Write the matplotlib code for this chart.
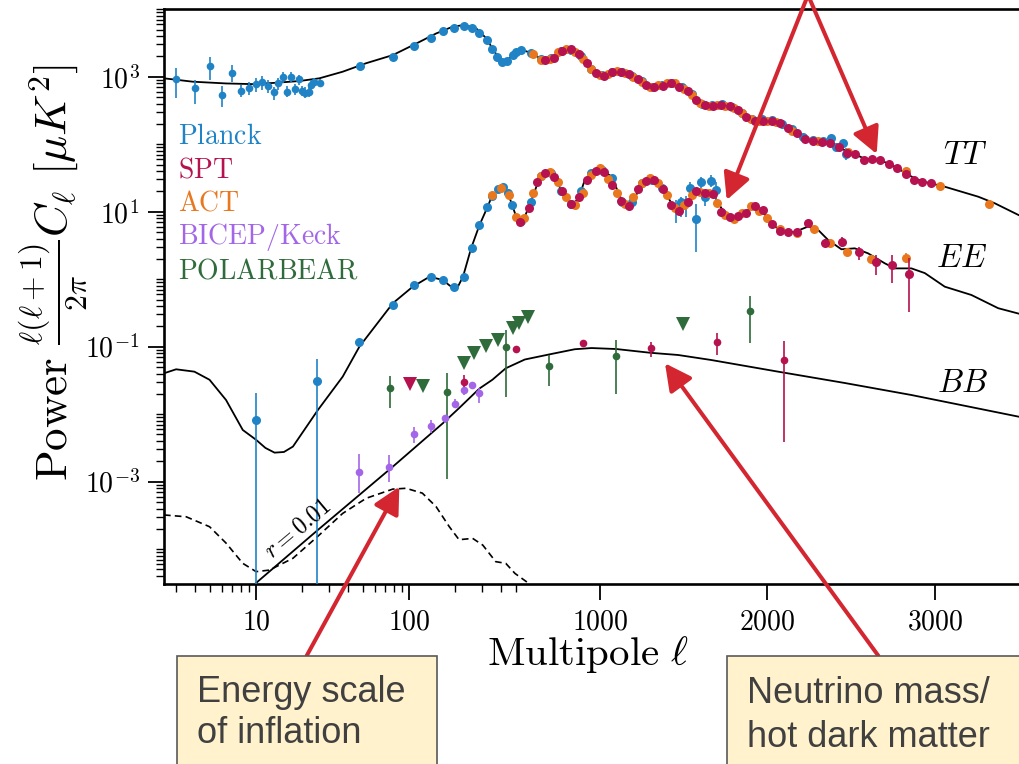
import numpy as np
import matplotlib
matplotlib.use('Agg')
import matplotlib.pyplot as plt
from matplotlib.patches import Rectangle
from matplotlib.ticker import FixedLocator, FixedFormatter, LogLocator, NullFormatter

plt.rcParams['mathtext.fontset'] = 'cm'
plt.rcParams['font.family'] = ['DejaVu Serif']

# ---------------- data (log10 of D_ell in uK^2) ----------------
# theory curves
tt_th_ell = [2.5, 3.85, 6.36, 9.5, 13.5, 19.2, 25.9, 36.8, 52.4, 78.2, 111, 150, 192, 229, 274, 319, 350,
             387, 428, 474, 532, 592, 652, 711, 771, 825, 875, 925, 975, 1025, 1075, 1125, 1175, 1225, 1275,
             1325, 1375, 1425, 1475, 1525, 1575, 1625, 1675, 1725, 1775, 1825, 1875, 1925, 1975, 2025, 2075,
             2125, 2175, 2225, 2275, 2325, 2375, 2425, 2475, 2525, 2575, 2625, 2675, 2725, 2775, 2825, 2875,
             2925, 2975, 3059, 3159, 3259, 3358, 3500]
tt_th_log = [2.976, 2.926, 2.90, 2.89, 2.91, 2.936, 2.976, 3.074, 3.2, 3.32, 3.49, 3.64, 3.74, 3.766, 3.717,
             3.57, 3.42, 3.27, 3.22, 3.32, 3.40, 3.35, 3.26, 3.27, 3.38, 3.41, 3.34, 3.20, 3.05, 3.02, 3.075,
             3.075, 3.04, 2.96, 2.88, 2.855, 2.87, 2.91, 2.855, 2.78, 2.66, 2.58, 2.57, 2.575, 2.565, 2.505,
             2.41, 2.355, 2.35, 2.345, 2.32, 2.24, 2.17, 2.08, 2.05, 2.03, 2.01, 1.965, 1.89, 1.85, 1.79,
             1.775, 1.76, 1.71, 1.65, 1.57, 1.50, 1.45, 1.42, 1.37, 1.296, 1.222, 1.124, 0.95]

ee_th_ell = [2.5, 3.0, 3.95, 4.96, 6.36, 8.18, 10, 11.5, 13.2, 15.2, 17.4, 25.3, 36.8, 47.3, 78.2, 105.6,
             136, 166, 183, 203, 225, 254, 288, 326, 350, 405, 447, 492, 522, 552, 592, 632, 672, 711, 771,
             830, 870, 910, 970, 1010, 1070, 1130, 1170, 1209, 1269, 1319, 1369, 1428, 1467, 1527, 1587,
             1646, 1686, 1726, 1785, 1845, 1904, 1964, 2024, 2083, 2163, 2243, 2303, 2363, 2442, 2522, 2601,
             2701, 2761, 2860, 2940, 3059, 3218, 3378, 3500]
ee_th_log = [-1.394, -1.335, -1.37, -1.49, -1.79, -2.234, -2.38, -2.50, -2.57, -2.56, -2.48, -1.94, -1.444,
             -1.0, -0.357, -0.111, 0.037, -0.012, -0.09, -0.16, 0.037, 0.457, 0.80, 1.074, 1.247, 1.346,
             1.247, 0.976, 0.852, 0.926, 1.173, 1.444, 1.593, 1.568, 1.32, 1.124, 1.173, 1.47, 1.62, 1.62,
             1.52, 1.17, 1.05, 1.22, 1.444, 1.49, 1.37, 1.124, 1.025, 1.173, 1.296, 1.296, 1.222, 1.05,
             0.926, 0.926, 1.074, 1.025, 0.83, 0.70, 0.70, 0.78, 0.73, 0.58, 0.443, 0.457, 0.383, 0.235,
             0.16, 0.16, 0.09, -0.111, -0.234, -0.43, -0.51]

bb_th_ell = [10, 25.3, 78.2, 166, 212, 288, 350, 428, 552, 711, 850, 950, 1099, 1300, 1467, 1664, 2064,
             2462, 2860, 3500]
bb_th_log = [-4.50, -3.716, -2.778, -2.135, -1.91, -1.62, -1.49, -1.32, -1.19, -1.108, -1.038, -1.02,
             -1.035, -1.09, -1.123, -1.197, -1.37, -1.538, -1.716, -2.037]

bbr_ell = [2.5, 3.49, 4.96, 6.36, 8.18, 10, 12.2, 17.4, 25.3, 36.8, 52.4, 78.2, 95.5, 122, 150, 183, 212,
           260, 303, 368, 428, 492, 572, 700]
bbr_log = [-3.493, -3.52, -3.667, -3.91, -4.21, -4.333, -4.31, -4.135, -3.81, -3.47, -3.246, -3.11,
           -3.098, -3.17, -3.37, -3.667, -3.86, -3.84, -3.94, -4.185, -4.21, -4.36, -4.5, -5.0]

# Planck TT
planck_tt_low_ell = [3, 4, 5, 6, 7, 8, 9, 10, 11, 12, 13, 14, 15, 16, 17, 18, 19, 20, 21, 22, 23, 24, 26]
planck_tt_low_log = [2.961, 2.828, 3.163, 2.729, 3.05, 2.788, 2.837, 2.887, 2.926, 2.862, 2.769, 2.902,
                     2.991, 2.778, 3.0, 2.813, 2.961, 2.793, 2.763, 2.773, 2.877, 2.926, 2.911]
planck_tt_low_lo = [2.68, 2.596, 2.951, 2.547, 2.926, 2.704, 2.729, 2.778, 2.803, 2.754, 2.655, 2.803,
                    2.902, 2.695, 2.926, 2.729, 2.877, 2.714, 2.68, 2.695, 2.803, 2.852, 2.843]
planck_tt_low_hi = [3.124, 2.951, 3.296, 2.862, 3.173, 2.877, 2.926, 2.976, 3.01, 2.951, 2.852, 2.976,
                    3.074, 2.862, 3.074, 2.892, 3.025, 2.862, 2.843, 2.843, 2.951, 2.976, 2.961]
planck_tt_ell = [48, 78, 107, 138, 167, 197, 228, 258, 288, 323, 348, 378, 405, 435, 474, 502, 530, 590,
                 650, 710, 770, 830, 890, 950, 1010, 1070, 1130, 1190, 1250, 1310, 1370, 1430, 1490, 1550,
                 1610, 1670, 1730, 1790, 1850, 1910, 1970, 2030, 2090, 2150, 2210, 2270, 2330]
planck_tt_log = [3.154, 3.29, 3.455, 3.569, 3.677, 3.726, 3.751, 3.717, 3.652, 3.544, 3.41, 3.296, 3.222,
                 3.237, 3.32, 3.37, 3.40, 3.35, 3.26, 3.28, 3.385, 3.40, 3.30, 3.11, 3.02, 3.07, 3.075, 3.01,
                 2.93, 2.85, 2.87, 2.91, 2.84, 2.74, 2.60, 2.575, 2.59, 2.55, 2.46, 2.37, 2.37, 2.36, 2.30,
                 2.22, 2.10, 2.06, 2.04]
planck_tt_err_ell = [2382, 2412, 2452, 2472]
planck_tt_err_log = [2.087, 1.963, 2.013, 1.855]
planck_tt_err_lo = [2.037, 1.91, 1.98, 1.766]
planck_tt_err_hi = [2.136, 2.0, 2.05, 1.94]

# SPT TT
spt_tt_ell = [675, 725, 775, 825, 875, 925, 975, 1025, 1075, 1125, 1175, 1225, 1275, 1325, 1375, 1425,
              1475, 1525, 1575, 1625, 1675, 1725, 1775, 1825, 1875, 1925, 1975, 2025, 2075, 2125, 2175,
              2225, 2275, 2325, 2375, 2425, 2475, 2525, 2575, 2625, 2675, 2725, 2775, 2825, 2875, 2925, 2975]
spt_tt_log = [3.25, 3.28, 3.385, 3.405, 3.33, 3.20, 3.05, 3.015, 3.074, 3.074, 3.04, 2.96, 2.877, 2.852,
              2.867, 2.911, 2.852, 2.79, 2.655, 2.576, 2.57, 2.576, 2.566, 2.507, 2.407, 2.35, 2.35, 2.35,
              2.32, 2.235, 2.17, 2.073, 2.047, 2.028, 2.013, 1.963, 1.874, 1.855, 1.766, 1.78, 1.766, 1.707,
              1.652, 1.559, 1.47, 1.444, 1.43]

# ACT TT
act_tt_ell = [600, 650, 700, 750, 800, 850, 900, 950, 1000, 1050, 1100, 1150, 1200, 1250, 1300, 1350,
              1400, 1450, 1500, 1550, 1600, 1650, 1700, 1750, 1800, 1850, 1900, 1950, 2000, 2050, 2150,
              2300, 2480, 2830, 3030, 3325]
act_tt_log = [3.336, 3.247, 3.26, 3.36, 3.406, 3.37, 3.26, 3.114, 3.025, 3.04, 3.084, 3.06, 3.0, 2.926,
              2.852, 2.877, 2.911, 2.90, 2.82, 2.73, 2.61, 2.57, 2.575, 2.57, 2.54, 2.46, 2.375, 2.35, 2.35,
              2.335, 2.20, 2.04, 1.88, 1.61, 1.385, 1.114]

# Planck EE
planck_ee_ell = [47, 78, 107, 138, 167, 197, 228, 258, 288, 323, 350, 380, 410, 440, 470, 530, 590, 650,
                 710, 770, 830, 890, 950, 1010, 1070, 1130, 1190, 1250, 1310, 1370]
planck_ee_log = [-0.926, -0.382, -0.08, 0.037, -0.012, -0.11, 0.037, 0.457, 0.80, 1.074, 1.23, 1.33, 1.36,
                 1.27, 1.10, 0.86, 1.15, 1.53, 1.57, 1.31, 1.12, 1.30, 1.58, 1.62, 1.50, 1.14, 1.14, 1.42,
                 1.47, 1.35]
planck_ee_err_ell = [10, 25, 1453, 1483, 1517, 1537, 1573, 1603, 1630, 1666, 1696]
planck_ee_err_log = [-2.086, -1.508, 1.074, 1.14, 1.124, 1.347, 0.892, 1.436, 1.222, 1.455, 1.32]
planck_ee_err_lo = [-6.0, -6.0, 0.837, 0.926, 0.926, 1.25, 0.407, 1.347, 1.08, 1.37, 1.10]
planck_ee_err_hi = [-1.69, -1.187, 1.173, 1.22, 1.23, 1.44, 1.114, 1.51, 1.32, 1.544, 1.444]

# SPT EE
spt_ee_ell = [525, 575, 625, 675, 725, 775, 825, 875, 925, 975, 1025, 1075, 1125, 1175, 1225, 1275, 1325,
              1375, 1425, 1475, 1525, 1575, 1625, 1675, 1725, 1775, 1825, 1875, 1925, 1975, 2025, 2075,
              2125, 2175]
spt_ee_log = [0.84, 1.05, 1.44, 1.58, 1.52, 1.30, 1.12, 1.22, 1.47, 1.60, 1.59, 1.40, 1.16, 1.08, 1.33,
              1.455, 1.47, 1.336, 1.10, 1.01, 1.14, 1.31, 1.28, 1.258, 1.0, 0.926, 0.936, 0.985, 1.084,
              1.025, 0.82, 0.72, 0.70, 0.70]
spt_ee_hi_ell = [2243, 2343, 2448, 2548, 2648, 2747, 2847]
spt_ee_hi_log = [0.83, 0.53, 0.556, 0.398, 0.25, 0.21, 0.072]
spt_ee_hi_lo = [0.78, 0.47, 0.48, 0.284, 0.06, -0.06, -0.486]
spt_ee_hi_hi = [0.88, 0.59, 0.63, 0.48, 0.36, 0.36, 0.31]

# ACT EE
act_ee_ell = [350, 400, 450, 500, 550, 600, 650, 700, 750, 800, 850, 900, 950, 1000, 1050, 1100, 1150,
              1200, 1250, 1300, 1350, 1400, 1450, 1500, 1550, 1600, 1650, 1700, 1750, 1800, 1850, 1900,
              1950, 2000]
act_ee_log = [1.247, 1.356, 1.247, 0.926, 0.90, 1.27, 1.53, 1.593, 1.444, 1.222, 1.10, 1.28, 1.55, 1.643,
              1.49, 1.28, 1.11, 1.22, 1.42, 1.494, 1.42, 1.247, 1.05, 1.10, 1.247, 1.296, 1.27, 1.124, 0.95,
              0.887, 0.976, 1.084, 1.01, 0.90]
act_ee_hi_ell = [2075, 2175, 2277, 2376, 2476, 2621, 2826]
act_ee_hi_log = [0.75, 0.69, 0.75, 0.53, 0.41, 0.295, 0.32]
act_ee_hi_lo = [0.72, 0.66, 0.71, 0.49, 0.37, 0.25, 0.235]
act_ee_hi_hi = [0.78, 0.72, 0.79, 0.57, 0.45, 0.34, 0.383]

# BB
bicep_bb_ell = [47, 74, 107, 139, 171, 200, 228, 256, 285]
bicep_bb_log = [-2.861, -2.778, -2.293, -2.175, -2.06, -1.85, -1.64, -1.567, -1.69]
bicep_bb_lo = [-3.17, -3.0, -2.42, -2.283, -2.135, -1.913, -1.716, -1.617, -1.83]
bicep_bb_hi = [-2.59, -2.604, -2.185, -2.086, -2.01, -1.78, -1.593, -1.519, -1.617]

pb_bb_ell = [75, 177, 428, 697, 1099, 1899]
pb_bb_log = [-1.607, -1.667, -1.0, -1.286, -1.138, -0.467]
pb_bb_lo = [-1.913, -2.964, -1.75, -1.58, -1.705, -0.95]
pb_bb_hi = [-1.434, -1.385, -0.753, -1.12, -0.9, -0.244]
pb_bb_lim_ell = [124, 227, 267, 316, 379, 474, 518, 572, 1497]
pb_bb_lim_log = [-1.58, -1.237, -1.089, -0.99, -0.9, -0.73, -0.644, -0.565, -0.668]

spt_bb_ell = [228, 498, 900, 1303, 1702, 2102]
spt_bb_log = [-1.527, -1.04, -0.94, -1.024, -0.935, -1.2]
spt_bb_lo = [-1.59, -1.07, -0.97, -1.157, -1.123, -2.407]
spt_bb_hi = [-1.42, -1.01, -0.91, -0.926, -0.80, -0.916]
spt_bb_lim_ell = [102]
spt_bb_lim_log = [-1.557]

experiments = ['Planck', 'SPT', 'ACT', 'BICEP/Keck', 'POLARBEAR']
colors = {'Planck': '#1f83c6', 'SPT': '#b5124f', 'ACT': '#e8771e',
          'BICEP/Keck': '#a366e8', 'POLARBEAR': '#2f6b3b'}

# ---------------- x scale: log below 500, linear above ----------------
ELL_SPLIT = 500.0
K = 0.0010948  # decades per unit ell in the linear part


def fwd(x):
    x = np.asarray(x, dtype=float)
    xs = np.clip(x, 1e-10, None)
    return np.where(x <= ELL_SPLIT, np.log10(xs), np.log10(ELL_SPLIT) + (x - ELL_SPLIT) * K)


def inv(y):
    y = np.asarray(y, dtype=float)
    s = np.log10(ELL_SPLIT)
    return np.where(y <= s, 10 ** np.minimum(y, s), ELL_SPLIT + (y - s) / K)


def p(v):
    return 10 ** np.asarray(v, dtype=float)


def errplot(ax, ell, lg, lo, hi, color, ms=5, z=3):
    v = p(lg)
    ax.errorbar(ell, v, yerr=[v - p(lo), p(hi) - v], fmt='o', color=color, ms=ms, mew=0,
                elinewidth=1.2, capsize=0, zorder=z)


W, H = 1019, 764
fig = plt.figure(figsize=(W / 100, H / 100), dpi=100)
ax_left, ax_bottom, ax_w, ax_h = 164, 584, 938.4, 574.8
ax = fig.add_axes([ax_left / W, (H - ax_bottom) / H, ax_w / W, ax_h / H])
ax.set_xscale('function', functions=(fwd, inv))
ax.set_yscale('log')
ax.set_xlim(2.5, 4000)
ax.set_ylim(10 ** -4.516, 1e4)

# theory curves
ax.plot(tt_th_ell, p(tt_th_log), color='black', lw=1.3, zorder=2)
ax.plot(ee_th_ell, p(ee_th_log), color='black', lw=1.3, zorder=2)
ax.plot(bb_th_ell, p(bb_th_log), color='black', lw=1.3, zorder=2)
ax.plot(bbr_ell, p(bbr_log), color='black', lw=1.2, ls=(0, (4, 2.5)), zorder=2)

# Planck
errplot(ax, planck_tt_low_ell, planck_tt_low_log, planck_tt_low_lo, planck_tt_low_hi, colors['Planck'], ms=5.5)
ax.plot(planck_tt_ell, p(planck_tt_log), 'o', color=colors['Planck'], ms=6.5, mew=0, zorder=3)
errplot(ax, planck_tt_err_ell, planck_tt_err_log, planck_tt_err_lo, planck_tt_err_hi, colors['Planck'], ms=6.5)
ax.plot(planck_ee_ell, p(planck_ee_log), 'o', color=colors['Planck'], ms=6.5, mew=0, zorder=3)
errplot(ax, planck_ee_err_ell, planck_ee_err_log, planck_ee_err_lo, planck_ee_err_hi, colors['Planck'], ms=6.5)

# ACT
ax.plot(act_tt_ell, p(act_tt_log), 'o', color=colors['ACT'], ms=6.5, mew=0, zorder=4)
ax.plot(act_ee_ell, p(act_ee_log), 'o', color=colors['ACT'], ms=6.5, mew=0, zorder=4)
errplot(ax, act_ee_hi_ell, act_ee_hi_log, act_ee_hi_lo, act_ee_hi_hi, colors['ACT'], ms=6.5, z=4)

# SPT
ax.plot(spt_tt_ell, p(spt_tt_log), 'o', color=colors['SPT'], ms=6.5, mew=0, zorder=5)
ax.plot(spt_ee_ell, p(spt_ee_log), 'o', color=colors['SPT'], ms=6.5, mew=0, zorder=5)
errplot(ax, spt_ee_hi_ell, spt_ee_hi_log, spt_ee_hi_lo, spt_ee_hi_hi, colors['SPT'], ms=6.5, z=5)
errplot(ax, spt_bb_ell, spt_bb_log, spt_bb_lo, spt_bb_hi, colors['SPT'], ms=5.5, z=5)
ax.plot(spt_bb_lim_ell, p(spt_bb_lim_log), 'v', color=colors['SPT'], ms=10, mew=0, zorder=5)

# BICEP/Keck and POLARBEAR
errplot(ax, bicep_bb_ell, bicep_bb_log, bicep_bb_lo, bicep_bb_hi, colors['BICEP/Keck'], ms=5.5)
errplot(ax, pb_bb_ell, pb_bb_log, pb_bb_lo, pb_bb_hi, colors['POLARBEAR'], ms=5.5)
ax.plot(pb_bb_lim_ell, p(pb_bb_lim_log), 'v', color=colors['POLARBEAR'], ms=10, mew=0, zorder=3)

# ticks
ax.xaxis.set_major_locator(FixedLocator([10, 100, 1000, 2000, 3000]))
ax.xaxis.set_major_formatter(FixedFormatter([r'$10$', r'$100$', r'$1000$', r'$2000$', r'$3000$']))
ax.xaxis.set_minor_locator(FixedLocator([3, 4, 5, 6, 7, 8, 9, 20, 30, 40, 50, 60, 70, 80, 90,
                                         200, 300, 400, 500]))
ax.xaxis.set_minor_formatter(NullFormatter())
ax.yaxis.set_major_locator(FixedLocator([1e-3, 1e-1, 1e1, 1e3]))
ax.yaxis.set_major_formatter(FixedFormatter([r'$10^{-3}$', r'$10^{-1}$', r'$10^{1}$', r'$10^{3}$']))
ax.yaxis.set_minor_locator(LogLocator(base=10, subs=np.arange(1, 10), numticks=100))
ax.yaxis.set_minor_formatter(NullFormatter())
ax.tick_params(which='major', direction='out', length=11.5, width=1.3, labelsize=20, pad=6)
ax.tick_params(which='minor', direction='out', length=5.5, width=1.0)
ax.tick_params(top=False, right=False)
for side in ['left', 'bottom', 'top']:
    ax.spines[side].set_linewidth(1.9)
ax.spines['right'].set_visible(False)

ax.set_xlabel(r'$\mathrm{Multipole}\ \ell$', fontsize=29.5)
ax.set_ylabel(r'$\mathrm{Power}\ \frac{\ell(\ell+1)}{2\pi}C_\ell\ [\mu K^2]$', fontsize=32.5)
ax.xaxis.set_label_coords((588 - ax_left) / ax_w, -(634 - ax_bottom) / ax_h)
ax.yaxis.set_label_coords((90 - ax_left) / ax_w, (ax_bottom - 272) / ax_h)

# experiment labels
for i, name in enumerate(experiments):
    ax.text((178 - ax_left) / ax_w, (ax_bottom - 136 - 33.7 * i) / ax_h, r'$\mathrm{%s}$' % name,
            transform=ax.transAxes, color=colors[name], fontsize=20, ha='left', va='center')

# spectrum labels
ax.text((965 - ax_left) / ax_w, (ax_bottom - 155) / ax_h, r'$TT$', transform=ax.transAxes,
        fontsize=23.5, ha='center', va='center')
ax.text((962 - ax_left) / ax_w, (ax_bottom - 258) / ax_h, r'$EE$', transform=ax.transAxes,
        fontsize=23.5, ha='center', va='center')
ax.text((963 - ax_left) / ax_w, (ax_bottom - 383) / ax_h, r'$BB$', transform=ax.transAxes,
        fontsize=23.5, ha='center', va='center')
ax.text((298 - ax_left) / ax_w, (ax_bottom - 529) / ax_h, r'$r = 0.01$', transform=ax.transAxes,
        fontsize=17, ha='center', va='center', rotation=40)

# red arrows (figure pixels, origin bottom-left)
red = '#d42630'
arrows = [((306.7, 655.7), (399.3, 486.7)),
          ((878.3, 655.7), (665.0, 363.3)),
          ((808.0, -5.0), (876.7, 154.0)),
          ((808.0, -5.0), (726.7, 200.0))]
for (tx, ty), (hx, hy) in arrows:
    ax.annotate('', xy=(hx, H - hy), xycoords='figure pixels',
                xytext=(tx, H - ty), textcoords='figure pixels', annotation_clip=False,
                arrowprops=dict(arrowstyle='-|>,head_length=0.7,head_width=0.36', color=red,
                                lw=2.9, mutation_scale=23, shrinkA=0, shrinkB=0), zorder=6)

# callout boxes
box_face, box_edge, box_text = '#fff2cc', '#595959', '#404040'
fig.patches.append(Rectangle((176.7 / W, -0.1), 260 / W, (H - 655.7) / H + 0.1, transform=fig.transFigure,
                             facecolor=box_face, edgecolor=box_edge, lw=1.2, zorder=5))
fig.patches.append(Rectangle((726.7 / W, -0.1), 400 / W, (H - 655.7) / H + 0.1, transform=fig.transFigure,
                             facecolor=box_face, edgecolor=box_edge, lw=1.2, zorder=5))
for txt, x, y in [('Energy scale', 196.7, 701.7), ('of inflation', 196.7, 743.3),
                  ('Neutrino mass/', 747.3, 703.0), ('hot dark matter', 747.3, 746.7)]:
    fig.text(x / W, (H - y) / H, txt, fontsize=26, color=box_text, family='Liberation Sans',
             ha='left', va='baseline', zorder=6)

fig.savefig('out.png', dpi=100)
